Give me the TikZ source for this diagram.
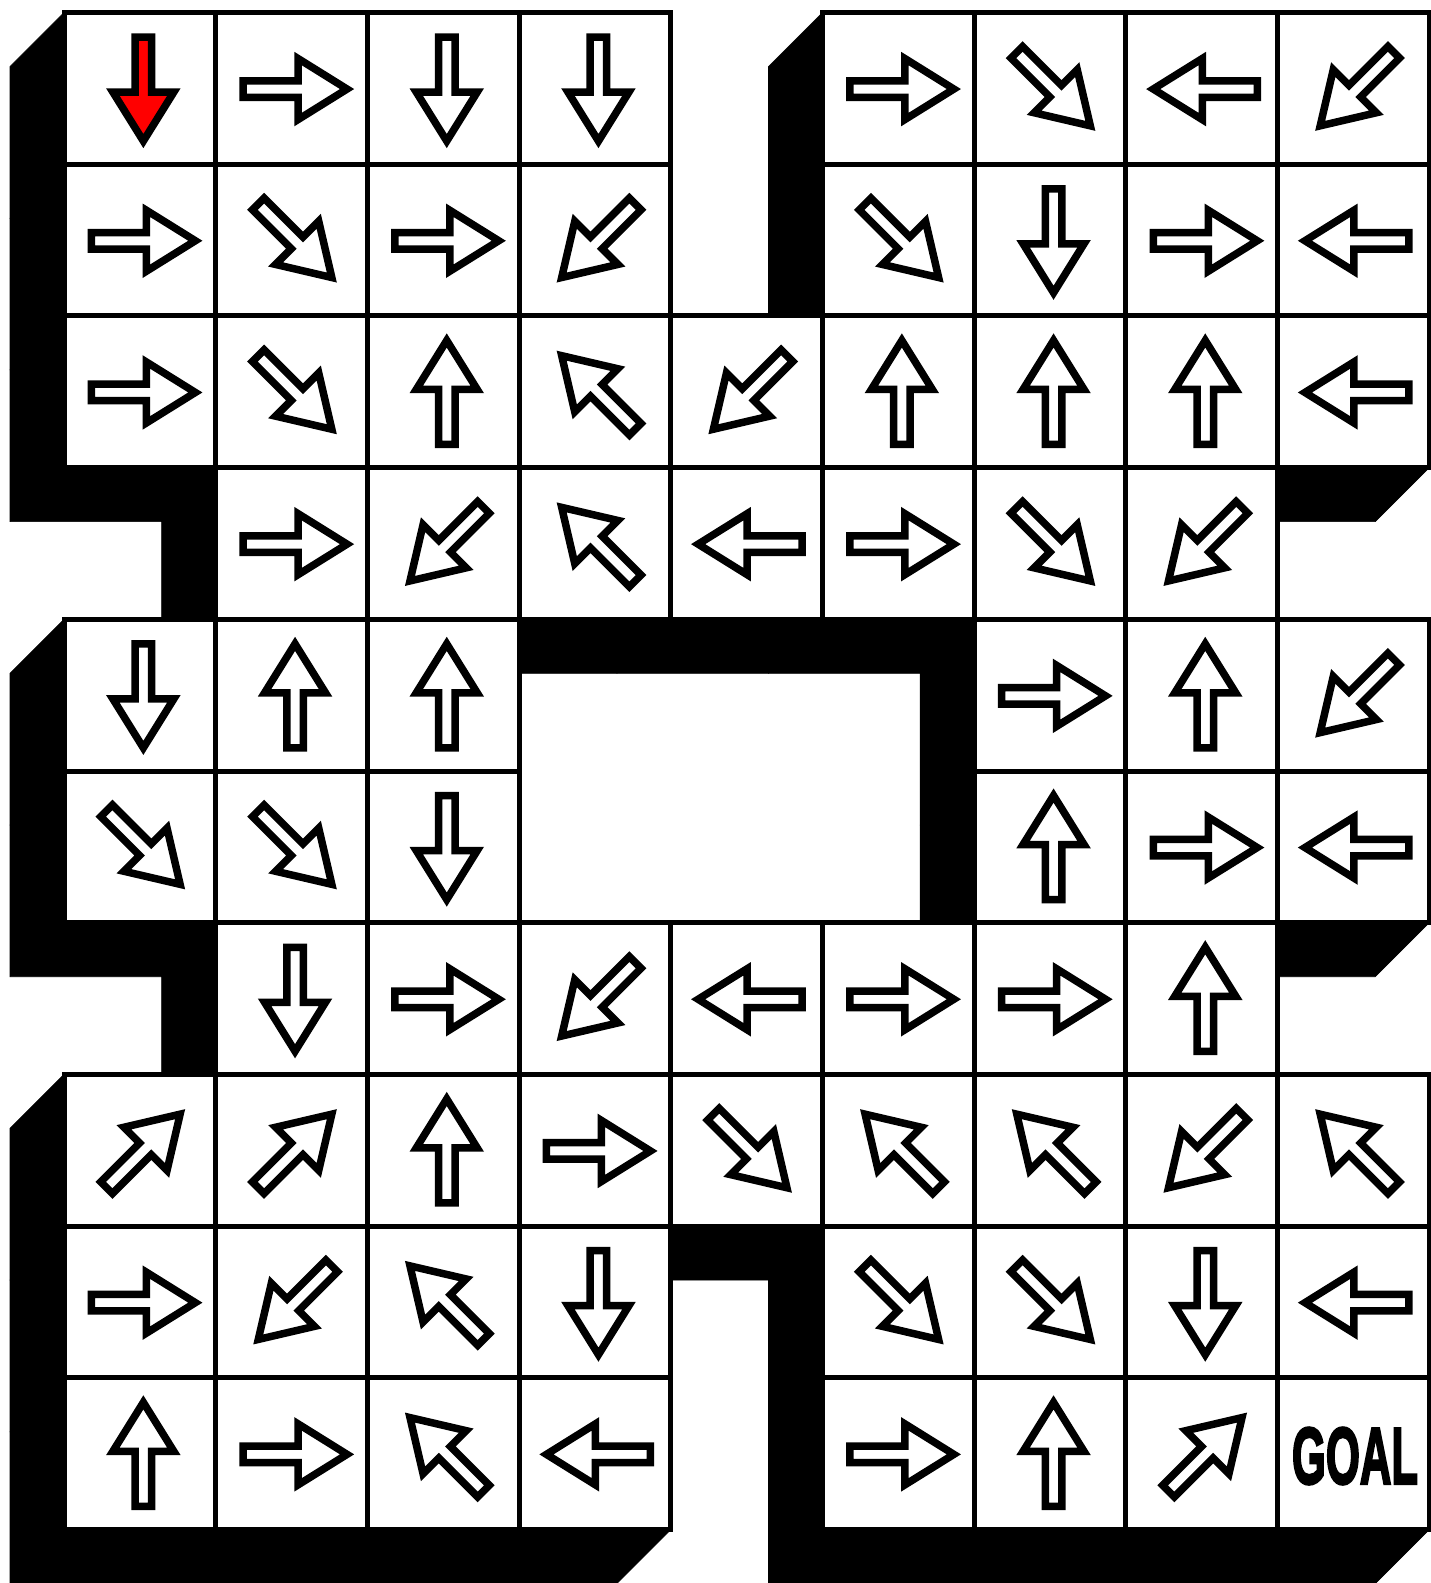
\documentclass[tikz,border=0pt]{standalone}
\usepackage{fontspec}
\usepackage{graphicx}
\newfontfamily\goalfont[BoldFeatures={FakeBold=3.5}]{Liberation Sans}
\definecolor{startred}{RGB}{255,0,0}
\tikzset{
  shadowfill/.style={fill=black,draw=black,line width=0.6pt},
  cellbox/.style={fill=white,draw=black,line width=5pt},
  arrowshape/.style={draw=black,fill=white,line width=7.5pt,line join=miter},
  startarrow/.style={arrowshape,fill=startred},
}
% row/col/angle (-1 = no arrow)
\def\celllist{0/0/270,0/1/0,0/2/270,0/3/270,0/5/0,0/6/315,0/7/180,0/8/225,
1/0/0,1/1/315,1/2/0,1/3/225,1/5/315,1/6/270,1/7/0,1/8/180,
2/0/0,2/1/315,2/2/90,2/3/135,2/4/225,2/5/90,2/6/90,2/7/90,2/8/180,
3/1/0,3/2/225,3/3/135,3/4/180,3/5/0,3/6/315,3/7/225,
4/0/270,4/1/90,4/2/90,4/6/0,4/7/90,4/8/225,
5/0/315,5/1/315,5/2/270,5/6/90,5/7/0,5/8/180,
6/1/270,6/2/0,6/3/225,6/4/180,6/5/0,6/6/0,6/7/90,
7/0/45,7/1/45,7/2/90,7/3/0,7/4/315,7/5/135,7/6/135,7/7/225,7/8/135,
8/0/0,8/1/225,8/2/135,8/3/270,8/5/315,8/6/315,8/7/270,8/8/180,
9/0/90,9/1/0,9/2/135,9/3/180,9/5/0,9/6/90,9/7/45,9/8/-1}
\begin{document}
\begin{tikzpicture}[x=1pt,y=-1pt]
\useasboundingbox (0,0) rectangle (1431,1583);
\fill[white] (0,0) rectangle (1431,1583);
% shadows (extrusion down-left)
\foreach \r/\c/\a in \celllist {
  \pgfmathsetmacro\xa{64+151.7*\c}
  \pgfmathsetmacro\ya{12.5+151.7*\r}
  \pgfmathsetmacro\xb{\xa+151.7}
  \pgfmathsetmacro\yb{\ya+151.7}
  \filldraw[shadowfill] (\xa,\ya) -- (\xb,\ya) -- (\xb,\yb) -- ({\xb-54},{\yb+54})
     -- ({\xa-54},{\yb+54}) -- ({\xa-54},{\ya+54}) -- cycle;
}
% cells
\foreach \r/\c/\a in \celllist {
  \pgfmathsetmacro\xa{64+151.7*\c}
  \pgfmathsetmacro\ya{12.5+151.7*\r}
  \draw[cellbox] (\xa,\ya) rectangle ++(151.7,151.7);
}
% arrows
\foreach \r/\c/\a in \celllist {
  \pgfmathsetmacro\xc{64+151.7*\c+75.85+3.5}
  \pgfmathsetmacro\yc{12.5+151.7*\r+75.85+0.7}
  \ifnum\a<0\relax\else
    \ifnum\r=0\ifnum\c=0
      \def\arrstyle{startarrow}\else\def\arrstyle{arrowshape}\fi
    \else\def\arrstyle{arrowshape}\fi
    \draw[\arrstyle,shift={(\xc,\yc)},rotate=\a]
      (-52,-8.25) -- (3,-8.25) -- (3,-30.5) -- (52,0) -- (3,30.5) -- (3,8.25) -- (-52,8.25) -- cycle;
  \fi
}
\node[inner sep=0pt] (goal) at (1355,1456) {\resizebox{126pt}{56pt}{\goalfont\bfseries GOAL}};
\end{tikzpicture}
\end{document}
